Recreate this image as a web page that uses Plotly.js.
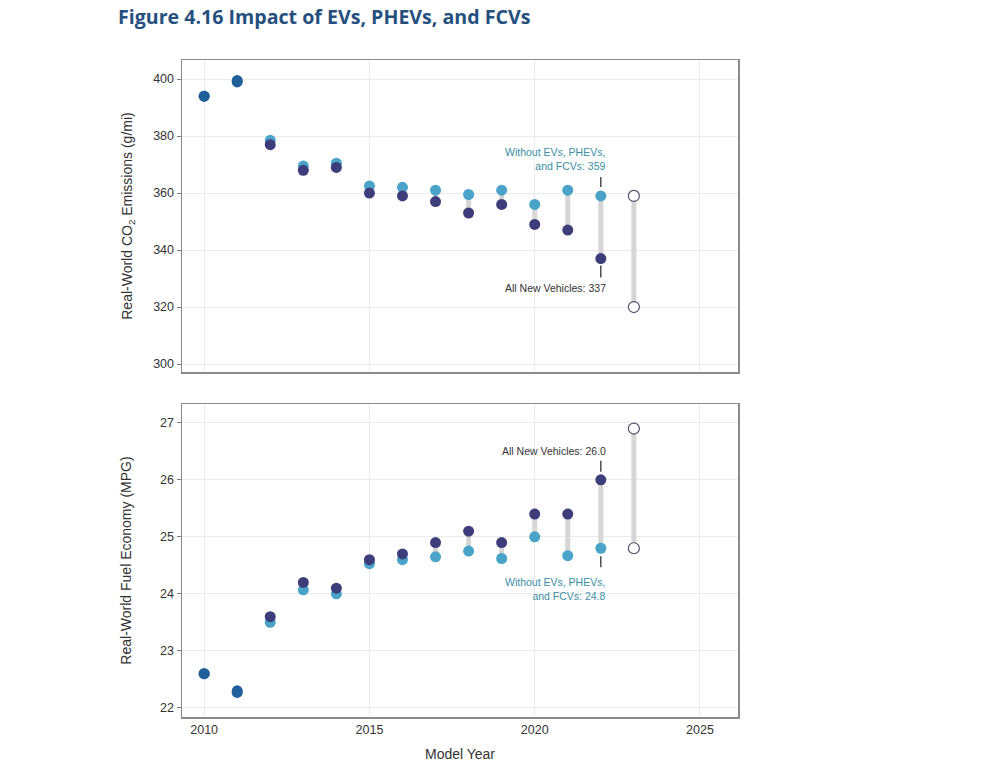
<!DOCTYPE html>
<html>
<head>
<meta charset="utf-8">
<script src="https://cdn.plot.ly/plotly-3.0.1.min.js"></script>
<style>
html,body{margin:0;padding:0;background:#fff;}
#chart{width:1000px;height:778px;}
</style>
</head>
<body>
<div id="chart"></div>
<script>
// ---- Data ----
const years = [2010, 2011, 2012, 2013, 2014, 2015, 2016, 2017, 2018, 2019, 2020, 2021, 2022];
const co2All = [394, 399, 377, 368, 369, 360, 359, 357, 353, 356, 349, 347, 337];
const co2Without = [394, 399.5, 378.5, 369.5, 370.5, 362.5, 362, 361, 359.5, 361, 356, 361, 359];
const mpgAll = [22.6, 22.3, 23.6, 24.2, 24.1, 24.6, 24.7, 24.9, 25.1, 24.9, 25.4, 25.4, 26.0];
const mpgWithout = [22.6, 22.27, 23.5, 24.07, 24.0, 24.53, 24.6, 24.65, 24.75, 24.62, 25.0, 24.67, 24.8];
const projYear = [2023];
const co2Proj = [359, 320];
const mpgProj = [26.9, 24.8];
const xTicks = [2010, 2015, 2020, 2025];

// ---- Styles ----
const DARK = '#3e3d7b';
const LIGHT = '#4aa3c9';
const SAME = '#215f9b';
const BAR = '#d6d6d6';
const TEAL = '#3a8ea5';
const FONT = 'Liberation Sans, Arial, sans-serif';

function barTrace(xs, a, b, xa, ya) {
  const x = [], y = [];
  xs.forEach((yr, i) => { x.push(yr, yr, null); y.push(a[i], b[i], null); });
  return {x, y, xaxis: xa, yaxis: ya, mode: 'lines', type: 'scatter',
    line: {color: BAR, width: 5}, hoverinfo: 'skip', showlegend: false};
}
function dotTrace(xs, ys, color, xa, ya) {
  return {x: xs, y: ys, xaxis: xa, yaxis: ya, mode: 'markers', type: 'scatter',
    marker: {size: 11, color: color, line: {width: 0}}, showlegend: false};
}
function colorsFor(a, b, base, tol) {
  return a.map((v, i) => Math.abs(v - b[i]) <= tol ? SAME : base);
}
function hollowTrace(ys, xa, ya) {
  return {x: ys.map(() => projYear[0]), y: ys, xaxis: xa, yaxis: ya, mode: 'markers', type: 'scatter',
    marker: {size: 11, color: '#ffffff', line: {width: 1.2, color: '#4e5168'}}, showlegend: false};
}

const traces = [
  barTrace(years, co2All, co2Without, 'x', 'y'),
  barTrace(projYear, [co2Proj[0]], [co2Proj[1]], 'x', 'y'),
  dotTrace(years, co2Without, colorsFor(co2Without, co2All, LIGHT, 0.6), 'x', 'y'),
  dotTrace(years, co2All, colorsFor(co2All, co2Without, DARK, 0.6), 'x', 'y'),
  hollowTrace(co2Proj, 'x', 'y'),

  barTrace(years, mpgAll, mpgWithout, 'x2', 'y2'),
  barTrace(projYear, [mpgProj[0]], [mpgProj[1]], 'x2', 'y2'),
  dotTrace(years, mpgWithout, colorsFor(mpgWithout, mpgAll, LIGHT, 0.05), 'x2', 'y2'),
  dotTrace(years, mpgAll, colorsFor(mpgAll, mpgWithout, DARK, 0.05), 'x2', 'y2'),
  hollowTrace(mpgProj, 'x2', 'y2')
];

const last = years.length - 1;
const lastYr = years[last];

function tick(xa, ya, yv, ay, standoff) {
  return {xref: xa, yref: ya, x: lastYr, y: yv, text: ' ', showarrow: true, arrowhead: 0,
    ax: 0, ay: ay, standoff: standoff, arrowwidth: 1.3, arrowcolor: '#333',
    font: {size: 1}};
}
function label(xa, ya, yv, txt, color, above, yshift) {
  return {xref: xa, yref: ya, x: lastYr, y: yv, text: txt, showarrow: false,
    xanchor: 'right', yanchor: above ? 'bottom' : 'top', align: 'right',
    xshift: 7, yshift: yshift,
    font: {family: FONT, size: 10.5, color: color}};
}

const annotations = [
  tick('x', 'y', co2Without[last], -21, 9),
  label('x', 'y', co2Without[last], 'Without EVs, PHEVs,<br>and FCVs: ' + co2Without[last], TEAL, true, 22),
  tick('x', 'y', co2All[last], 21, 7),
  label('x', 'y', co2All[last], 'All New Vehicles: ' + co2All[last], '#333', false, -21),
  tick('x2', 'y2', mpgAll[last], -21, 8),
  label('x2', 'y2', mpgAll[last], 'All New Vehicles: ' + mpgAll[last].toFixed(1), '#333', true, 21),
  tick('x2', 'y2', mpgWithout[last], 21, 8),
  label('x2', 'y2', mpgWithout[last], 'Without EVs, PHEVs,<br>and FCVs: ' + mpgWithout[last].toFixed(1), TEAL, false, -26),
  {xref: 'paper', yref: 'paper', x: -0.119, y: 1.042, xanchor: 'left', yanchor: 'bottom',
    text: '<b>Figure 4.16 Impact of EVs, PHEVs, and FCVs</b>', showarrow: false,
    font: {family: 'Open Sans, sans-serif', size: 19.6, color: '#25507e'}}
];

const tickFont = {family: FONT, size: 12.5, color: '#333'};
const axisCommon = {
  showline: true, mirror: true, linecolor: '#8a8a8a', linewidth: 1.5,
  showgrid: true, gridcolor: '#ebebeb', gridwidth: 1, zeroline: false,
  ticks: 'outside', ticklen: 4, tickcolor: '#777', tickfont: tickFont
};

const layout = {
  width: 1000, height: 778,
  margin: {l: 182, r: 262, t: 60, b: 61},
  paper_bgcolor: '#fff', plot_bgcolor: '#fff',
  showlegend: false,
  xaxis: Object.assign({}, axisCommon, {
    domain: [0, 1], anchor: 'y', range: [2009.33, 2026.15],
    tickvals: xTicks, showticklabels: false, ticks: ''
  }),
  yaxis: Object.assign({}, axisCommon, {
    domain: [0.5251, 1], anchor: 'x', range: [297.2, 406.7], dtick: 20, tick0: 300,
    title: {text: 'Real-World CO<sub>2</sub> Emissions (g/mi)', standoff: 17,
      font: {family: FONT, size: 14, color: '#333'}}
  }),
  xaxis2: Object.assign({}, axisCommon, {
    domain: [0, 1], anchor: 'y2', range: [2009.33, 2026.15], matches: 'x',
    tickvals: xTicks, ticks: '',
    title: {text: 'Model Year', standoff: 13,
      font: {family: FONT, size: 14, color: '#333'}}
  }),
  yaxis2: Object.assign({}, axisCommon, {
    domain: [0, 0.4764], anchor: 'x2', range: [21.84, 27.33], dtick: 1, tick0: 22,
    title: {text: 'Real-World Fuel Economy (MPG)', standoff: 25,
      font: {family: FONT, size: 14, color: '#333'}}
  }),
  annotations: annotations
};

Plotly.newPlot('chart', traces, layout, {displayModeBar: false, staticPlot: true});
</script>
</body>
</html>
